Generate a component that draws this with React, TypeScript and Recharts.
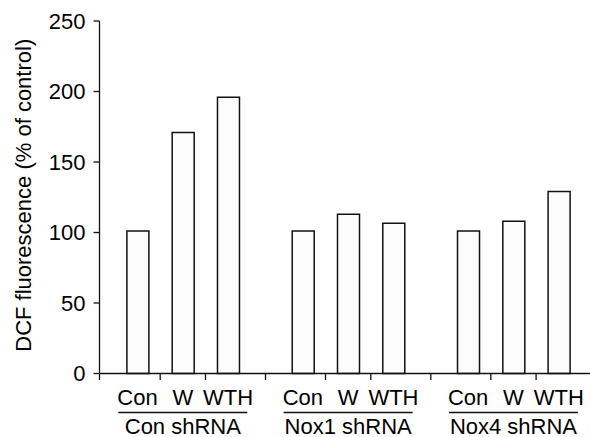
import React from "react";
import { ComposedChart, Bar, XAxis, YAxis, Label } from "recharts";

const groups = ["Con shRNA", "Nox1 shRNA", "Nox4 shRNA"];
const treatments = ["Con", "W", "WTH"];
const conShRNA = [101, 171, 196];
const nox1ShRNA = [101, 113, 106.5];
const nox4ShRNA = [101, 108, 129];
const yTicks = [0, 50, 100, 150, 200, 250];

const seriesByGroup = [conShRNA, nox1ShRNA, nox4ShRNA];
const GROUP_STEP = 3.65;
const X_DOMAIN: [number, number] = [-0.84, 9.99];
const FONT = "Liberation Sans, Arial, sans-serif";
const INK = "#111";

const rows = groups.flatMap((group, g) =>
  treatments.map((treatment, i) => ({
    x: g * GROUP_STEP + i,
    value: seriesByGroup[g][i],
    treatment,
    group,
    mid: i === 1,
  }))
);

// tick marks: axis start, between bars, and between groups
const markTicks = [
  X_DOMAIN[0],
  ...groups.flatMap((_, g) => {
    const base = g * GROUP_STEP;
    const m = [base + 0.5, base + 1.5];
    if (g < groups.length - 1) m.push(base + 2 + (GROUP_STEP - 2) / 2);
    return m;
  }),
];
const allTicks = [...markTicks, ...rows.map((r) => r.x)].sort((a, b) => a - b);

const XTick = (props: any) => {
  const { x, y, payload } = props;
  const row = rows.find((r) => Math.abs(r.x - payload.value) < 1e-6);
  if (!row) {
    return <line x1={x} x2={x} y1={y} y2={y + 6.5} stroke={INK} strokeWidth={1.3} />;
  }
  return (
    <g fontFamily={FONT} fontSize={22} fill="#000">
      <text x={x} y={y + 31.5} textAnchor="middle">
        {row.treatment}
      </text>
      {row.mid && (
        <>
          <line x1={x - 64.5} x2={x + 64.5} y1={y + 39} y2={y + 39} stroke={INK} strokeWidth={1.3} />
          <text x={x} y={y + 60.5} textAnchor="middle">
            {row.group}
          </text>
        </>
      )}
    </g>
  );
};

export default function App() {
  return (
    <div style={{ position: "absolute", left: 0, top: 0, background: "#fff" }}>
      <ComposedChart
        width={590}
        height={437}
        data={rows}
        margin={{ top: 21, right: 0, bottom: 0, left: 0 }}
      >
        <XAxis
          dataKey="x"
          type="number"
          domain={X_DOMAIN}
          allowDataOverflow
          ticks={allTicks}
          interval={0}
          tickLine={false}
          tickSize={0}
          tickMargin={0}
          tick={<XTick />}
          height={63.5}
          axisLine={{ stroke: INK, strokeWidth: 1.3 }}
        />
        <YAxis
          type="number"
          domain={[0, 250]}
          ticks={yTicks}
          interval={0}
          width={99.5}
          tickSize={6}
          tickMargin={8}
          tickLine={{ stroke: INK, strokeWidth: 1.3 }}
          axisLine={{ stroke: INK, strokeWidth: 1.3 }}
          tick={{ fill: "#000", fontSize: 22, fontFamily: FONT }}
        >
          <Label
            content={(p: any) => {
              const vb = p.viewBox || { y: 21, height: 352.5 };
              const cy = vb.y + vb.height / 2 - 2;
              return (
                <text
                  transform={`translate(23, ${cy}) rotate(-90)`}
                  textAnchor="middle"
                  dominantBaseline="central"
                  fontFamily={FONT}
                  fontSize={22}
                  fill="#000"
                >
                  DCF fluorescence (% of control)
                </text>
              );
            }}
          />
        </YAxis>
        <Bar
          dataKey="value"
          barSize={22}
          fill="#fcfcfc"
          stroke={INK}
          strokeWidth={1.5}
          isAnimationActive={false}
        />
      </ComposedChart>
    </div>
  );
}
